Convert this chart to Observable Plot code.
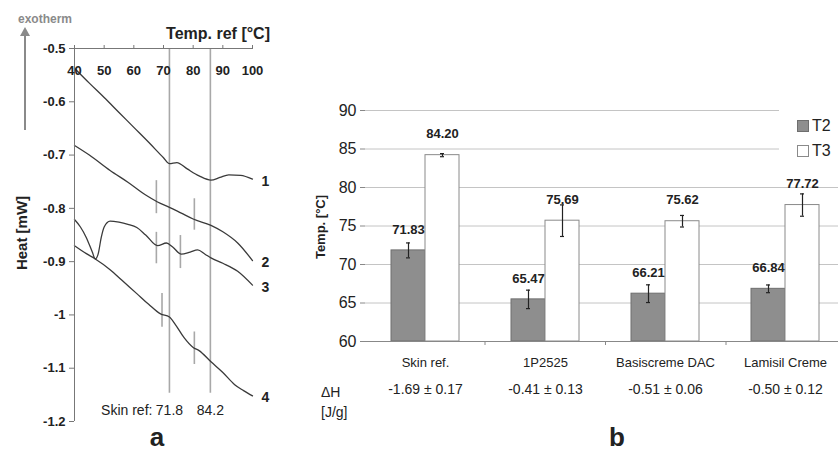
<!DOCTYPE html>
<html>
<head>
<meta charset="utf-8">
<script src="https://cdn.jsdelivr.net/npm/d3@7"></script>
<script src="https://cdn.jsdelivr.net/npm/@observablehq/plot@0.6"></script>
<style>
  html, body { margin: 0; padding: 0; background: #fff; overflow: hidden; }
  #wrap { position: relative; width: 838px; height: 452px; overflow: hidden; font-family: "Liberation Sans", Arial, sans-serif; color: #222; }
  .abs { position: absolute; white-space: nowrap; }
  #pa, #pb { position: absolute; top: 0; width: 560px; height: 452px; }
  #pa { left: 0; }
  #pb { left: 290px; }
  #pb > svg { position: absolute; left: 0; top: 0; }
</style>
</head>
<body>
<div id="wrap">
  <div id="pa"></div>
  <div id="pb"></div>

  <!-- panel a annotations -->
  <div class="abs" style="left:18px; top:12px; font-size:12px; font-weight:bold; color:#8a8a8a;">exotherm</div>
  <div class="abs" style="left:24px; top:34px; width:2px; height:96px; background:#8a8a8a;"></div>
  <div class="abs" style="left:20px; top:27px; width:0; height:0; border-left:5px solid transparent; border-right:5px solid transparent; border-bottom:9px solid #8a8a8a;"></div>
  <div class="abs" style="left:270px; top:25px; transform:translateX(-100%); font-size:16px; font-weight:bold;">Temp. ref [°C]</div>
  <div class="abs" style="left:21px; top:233px; transform:translate(-50%,-50%) rotate(-90deg); font-size:15px; font-weight:bold;">Heat [mW]</div>
  <div class="abs" style="left:157px; top:437px; transform:translate(-50%,-50%); font-size:26px; font-weight:bold;">a</div>

  <!-- panel b annotations -->
  <div class="abs" style="left:320px; top:227px; transform:translate(-50%,-50%) rotate(-90deg); font-size:13px; font-weight:bold;">Temp. [°C]</div>
  <div class="abs" style="left:321px; top:384px; font-size:14px;">ΔH</div>
  <div class="abs" style="left:321px; top:404px; font-size:14px;">[J/g]</div>
  <div class="abs" style="left:617px; top:437px; transform:translate(-50%,-50%); font-size:26px; font-weight:bold;">b</div>
  <div class="abs" style="left:779px; top:100px; width:59px; height:62px; background:#fff;"></div>
  <div class="abs" id="legend" style="left:797px; top:113px; font-size:16px; line-height:25px;"></div>
</div>
<script>
// ---------- Panel a data ----------
const xTicksA = [40, 50, 60, 70, 80, 90, 100];
const yTicksA = [-0.5, -0.6, -0.7, -0.8, -0.9, -1, -1.1, -1.2];

const temps1 = [40, 45, 50, 55, 60, 65, 70, 72, 74.5, 78, 82, 86, 89, 92, 96, 100];
const heat1  = [-0.537, -0.565, -0.592, -0.620, -0.648, -0.676, -0.705, -0.716, -0.714, -0.726, -0.739, -0.747, -0.742, -0.737, -0.738, -0.745];

const temps2 = [40, 45, 52, 58, 64, 68, 72, 76, 80, 86, 90, 95, 100];
const heat2  = [-0.682, -0.700, -0.729, -0.751, -0.775, -0.788, -0.798, -0.809, -0.820, -0.832, -0.844, -0.865, -0.898];

const temps3 = [40, 42, 44, 46, 47, 48, 49, 50, 52, 55, 58, 61, 64, 68, 71, 73, 76, 79, 81.5, 84, 86, 90, 95, 100];
const heat3  = [-0.821, -0.835, -0.855, -0.882, -0.895, -0.885, -0.855, -0.835, -0.824, -0.826, -0.830, -0.836, -0.850, -0.870, -0.865, -0.872, -0.886, -0.882, -0.878, -0.886, -0.893, -0.903, -0.918, -0.944];

const temps4 = [40, 44, 47, 52, 56, 61, 65, 69, 72, 74, 77, 80, 82, 86, 90, 94, 97, 100];
const heat4  = [-0.870, -0.885, -0.895, -0.915, -0.935, -0.960, -0.980, -0.998, -1.004, -1.018, -1.043, -1.061, -1.067, -1.088, -1.108, -1.131, -1.142, -1.152];

const curveIds = ["1", "2", "3", "4"];

// reference lines (skin ref T2/T3)
const refTemps  = [72, 85.8];
const refLabels = ["71.8", "84.2"];
const refTop = -0.5, refBottom = -1.147;

// short transition markers
const markerT      = [67.6, 80.4, 67.6, 75.7, 69.5, 80.4];
const markerTop    = [-0.748, -0.782, -0.845, -0.851, -0.960, -1.032];
const markerBottom = [-0.810, -0.841, -0.904, -0.913, -1.023, -1.093];

// ---------- Panel b data ----------
const categories = ["Skin ref.", "1P2525", "Basiscreme DAC", "Lamisil Creme"];
const seriesNames = ["T2", "T3"];
const t2    = [71.83, 65.47, 66.21, 66.84];
const t2Err = [0.97, 1.20, 1.15, 0.50];
const t3    = [84.20, 75.69, 75.62, 77.72];
const t3Err = [0.20, 2.05, 0.75, 1.45];
const dH    = ["-1.69 ± 0.17", "-0.41 ± 0.13", "-0.51 ± 0.06", "-0.50 ± 0.12"];
const yTicksB = [60, 65, 70, 75, 80, 85, 90];

const seriesColors = ["#8e8e8e", "#ffffff"];
const seriesStrokes = ["#6e6e6e", "#8a8a8a"];

// ---------- build panel a ----------
const tempsAll = [temps1, temps2, temps3, temps4];
const heatAll = [heat1, heat2, heat3, heat4];
const curveRows = curveIds.flatMap((id, k) => tempsAll[k].map((t, i) => ({id, t, h: heatAll[k][i]})));
const curveEnds = curveIds.map((id, k) => ({id, t: tempsAll[k][tempsAll[k].length - 1], h: heatAll[k][heatAll[k].length - 1]}));
const markers = markerT.map((t, i) => ({t, top: markerTop[i], bottom: markerBottom[i]}));
const refs = refTemps.map((t, i) => ({t, label: refLabels[i]}));

const font = "'Liberation Sans', Arial, sans-serif";

const plotA = Plot.plot({
  width: 290, height: 452,
  marginLeft: 74, marginRight: 38, marginTop: 48, marginBottom: 31,
  x: {domain: [40, 100], axis: null},
  y: {domain: [-1.2, -0.5], axis: null},
  style: {fontFamily: font, background: "transparent", overflow: "visible", color: "#222"},
  marks: [
    Plot.ruleX(refs, {x: "t", y1: refTop, y2: refBottom, stroke: "#a8a8a8", strokeWidth: 1.6}),
    Plot.ruleX(markers, {x: "t", y1: "top", y2: "bottom", stroke: "#a8a8a8", strokeWidth: 1.6}),
    Plot.line(curveRows, {x: "t", y: "h", z: "id", stroke: "#3a3a3a", strokeWidth: 1.3, curve: "monotone-x"}),
    Plot.ruleX([xTicksA[0]], {stroke: "#777", strokeWidth: 1}),
    Plot.ruleY([yTicksA[0]], {stroke: "#777", strokeWidth: 1}),
    Plot.axisY({ticks: yTicksA, tickSize: 5, tickPadding: 4, tickFormat: d => String(d), fontSize: 13, fontWeight: "bold", label: null, stroke: "#777"}),
    Plot.axisX({anchor: "top", ticks: xTicksA, tickSize: 4, tickFormat: () => "", label: null, stroke: "#777"}),
    Plot.text(xTicksA, {x: d => d, y: yTicksA[0], dy: 22, text: d => String(d), fontSize: 13, fontWeight: "bold"}),
    Plot.text(curveEnds, {x: "t", y: "h", text: "id", dx: 9, dy: 2, textAnchor: "start", fontSize: 14, fontWeight: "bold"}),
    Plot.text(refs, {x: "t", y: refBottom, text: "label", dy: 17, fontSize: 14}),
    Plot.text(refs.slice(0, 1), {x: "t", y: refBottom, text: () => "Skin ref:", dy: 17, dx: -17, textAnchor: "end", fontSize: 14})
  ]
});
document.getElementById("pa").appendChild(plotA);

// ---------- build panel b ----------
const bars = categories.flatMap((cat, i) => [
  {cat, series: seriesNames[0], value: t2[i], err: t2Err[i]},
  {cat, series: seriesNames[1], value: t3[i], err: t3Err[i]}
]);
const dHRows = categories.map((cat, i) => ({cat, text: dH[i]}));
const fmt = d3.format(".2f");

const dimsB = {width: 560, height: 452, marginLeft: 74, marginRight: 4, marginTop: 110, marginBottom: 111};

const plotB = Plot.plot({
  ...dimsB,
  fx: {domain: categories, padding: 0, axis: null, label: null},
  x: {domain: seriesNames, paddingInner: 0, paddingOuter: 0.72, axis: null},
  y: {domain: [yTicksB[0], yTicksB[yTicksB.length - 1]], axis: null},
  color: {domain: seriesNames, range: seriesColors},
  style: {fontFamily: font, background: "transparent", overflow: "visible", color: "#222"},
  marks: [
    Plot.gridY(yTicksB, {stroke: "#c4c4c4", strokeOpacity: 1}),
    Plot.barY(bars, {fx: "cat", x: "series", y1: yTicksB[0], y2: "value", fill: "series", stroke: d => seriesStrokes[seriesNames.indexOf(d.series)], strokeWidth: 1}),
    Plot.ruleX(bars, {fx: "cat", x: "series", y1: d => d.value - d.err, y2: d => d.value + d.err, stroke: "#222", strokeWidth: 1.2}),
    Plot.tickY(bars, {fx: "cat", x: "series", y: d => d.value - d.err, stroke: "#222", strokeWidth: 1.2, insetLeft: 15, insetRight: 15}),
    Plot.tickY(bars, {fx: "cat", x: "series", y: d => d.value + d.err, stroke: "#222", strokeWidth: 1.2, insetLeft: 15, insetRight: 15}),
    Plot.text(bars, {fx: "cat", x: "series", y: "value", text: d => fmt(d.value), dy: -21, fontSize: 13, fontWeight: "bold"}),
    Plot.ruleY([yTicksB[0]], {stroke: "#888"}),
    Plot.axisY({ticks: yTicksB, tickSize: 5, tickPadding: 4, fontSize: 16, label: null, line: true, stroke: "#888"}),
    Plot.text(categories, {fx: d => d, text: d => d, frameAnchor: "bottom", dy: 25, fontSize: 13}),
    Plot.text(dHRows, {fx: "cat", text: "text", frameAnchor: "bottom", dy: 52, fontSize: 14})
  ]
});
document.getElementById("pb").appendChild(plotB);

// category boundary ticks (Excel-style) on a linear index scale over the same frame
const plotBTicks = Plot.plot({
  ...dimsB,
  x: {domain: [0, categories.length], axis: null},
  y: {domain: [yTicksB[0], yTicksB[yTicksB.length - 1]], axis: null},
  style: {background: "transparent", overflow: "visible"},
  marks: [
    Plot.axisX({anchor: "bottom", ticks: d3.range(1, categories.length), tickSize: 4, tickFormat: () => "", label: null, stroke: "#888"})
  ]
});
document.getElementById("pb").appendChild(plotBTicks);

// legend
const legend = document.getElementById("legend");
seriesNames.forEach((s, i) => {
  const row = document.createElement("div");
  row.style.display = "flex";
  row.style.alignItems = "center";
  const sw = document.createElement("span");
  sw.style.cssText = `display:inline-block;width:10px;height:10px;margin-right:3px;background:${seriesColors[i]};border:1px solid ${seriesStrokes[i]};`;
  const tx = document.createElement("span");
  tx.textContent = s;
  row.appendChild(sw); row.appendChild(tx);
  legend.appendChild(row);
});
</script>
</body>
</html>
